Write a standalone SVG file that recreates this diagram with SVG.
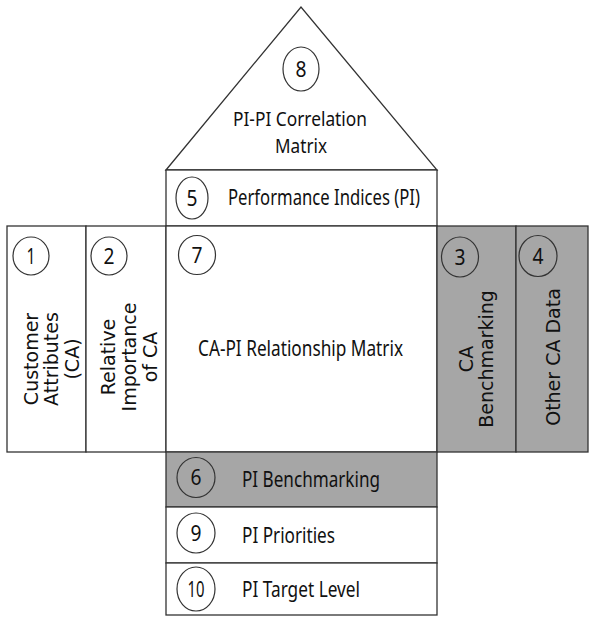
<svg xmlns="http://www.w3.org/2000/svg" width="589" height="617" viewBox="0 0 589 617">
<style>
.box{fill:#fff;stroke:#333;stroke-width:1.3}
.gray{fill:#a6a6a6;stroke:#333;stroke-width:1.3}
.circ{fill:none;stroke:#333;stroke-width:1.2}
.h{font-family:"Noto Sans","Open Sans",sans-serif;font-size:21px;fill:#111}
.roof{font-size:19.5px}
.num{font-family:"Noto Sans","Open Sans",sans-serif;font-size:21px;fill:#111;text-anchor:middle}
.v{font-family:"DejaVu Sans",Verdana,sans-serif;font-size:19px;fill:#111;text-anchor:middle}
</style>
<rect width="589" height="617" fill="#fff"/>
<g id="node8">
<polygon class="box" points="166,170 301,7 437,170"/>
<ellipse class="circ" cx="301" cy="69" rx="18" ry="22"/>
<text class="num" x="301" y="76.5" textLength="11" lengthAdjust="spacingAndGlyphs">8</text>
<text class="h roof" x="233" y="126" textLength="134" lengthAdjust="spacingAndGlyphs">PI-PI Correlation</text>
<text class="h roof" x="275" y="153" textLength="52" lengthAdjust="spacingAndGlyphs">Matrix</text>
</g>
<g id="node5">
<rect class="box" x="166" y="170" width="271" height="56"/>
<ellipse class="circ" cx="192" cy="198" rx="16" ry="21"/>
<text class="num" x="192" y="205.5" textLength="11" lengthAdjust="spacingAndGlyphs">5</text>
<text class="h" x="228" y="205" textLength="192" lengthAdjust="spacingAndGlyphs">Performance Indices (PI)</text>
</g>
<g id="node1">
<rect class="box" x="7" y="226" width="79" height="226"/>
<ellipse class="circ" cx="31" cy="256" rx="18" ry="19"/>
<text class="num" x="31" y="263.5" textLength="9" lengthAdjust="spacingAndGlyphs">1</text>
<text class="v" transform="translate(37.5,359) rotate(-90)">Customer</text>
<text class="v" transform="translate(58,359) rotate(-90)">Attributes</text>
<text class="v" transform="translate(78.5,359) rotate(-90)">(CA)</text>
</g>
<g id="node2">
<rect class="box" x="86" y="226" width="80" height="226"/>
<ellipse class="circ" cx="109" cy="256" rx="18" ry="19"/>
<text class="num" x="109" y="263.5" textLength="11" lengthAdjust="spacingAndGlyphs">2</text>
<text class="v" transform="translate(115,357) rotate(-90)">Relative</text>
<text class="v" transform="translate(136,357) rotate(-90)">Importance</text>
<text class="v" transform="translate(157,357) rotate(-90)">of CA</text>
</g>
<g id="node7">
<rect class="box" x="166" y="226" width="271" height="226"/>
<ellipse class="circ" cx="197" cy="255" rx="18.5" ry="19.5"/>
<text class="num" x="197" y="262.5" textLength="11" lengthAdjust="spacingAndGlyphs">7</text>
<text class="h" x="198" y="356" textLength="205" lengthAdjust="spacingAndGlyphs">CA-PI Relationship Matrix</text>
</g>
<g id="node3">
<rect class="gray" x="437" y="226" width="79" height="226"/>
<ellipse class="circ" cx="460" cy="257" rx="18.5" ry="20"/>
<text class="num" x="460" y="264.5" textLength="11" lengthAdjust="spacingAndGlyphs">3</text>
<text class="v" transform="translate(473,359) rotate(-90)">CA</text>
<text class="v" transform="translate(493,359) rotate(-90)">Benchmarking</text>
</g>
<g id="node4">
<rect class="gray" x="516" y="226" width="72" height="226"/>
<ellipse class="circ" cx="538" cy="256" rx="19" ry="20.5"/>
<text class="num" x="538" y="263.5" textLength="11" lengthAdjust="spacingAndGlyphs">4</text>
<text class="v" transform="translate(560,357) rotate(-90)">Other CA Data</text>
</g>
<g id="node6">
<rect class="gray" x="166" y="452" width="271" height="55"/>
<ellipse class="circ" cx="196" cy="477.5" rx="19" ry="20"/>
<text class="num" x="196" y="485" textLength="11" lengthAdjust="spacingAndGlyphs">6</text>
<text class="h" x="242" y="487" textLength="138" lengthAdjust="spacingAndGlyphs">PI Benchmarking</text>
</g>
<g id="node9">
<rect class="box" x="166" y="507" width="271" height="56"/>
<ellipse class="circ" cx="196" cy="533" rx="19" ry="20"/>
<text class="num" x="196" y="540.5" textLength="11" lengthAdjust="spacingAndGlyphs">9</text>
<text class="h" x="242" y="543" textLength="93" lengthAdjust="spacingAndGlyphs">PI Priorities</text>
</g>
<g id="node10">
<rect class="box" x="166" y="563" width="271" height="52"/>
<ellipse class="circ" cx="196" cy="589" rx="19" ry="22"/>
<text class="num" x="196" y="596.5" textLength="17" lengthAdjust="spacingAndGlyphs">10</text>
<text class="h" x="242" y="597" textLength="118" lengthAdjust="spacingAndGlyphs">PI Target Level</text>
</g>
<g id="connectors"/>
</svg>
